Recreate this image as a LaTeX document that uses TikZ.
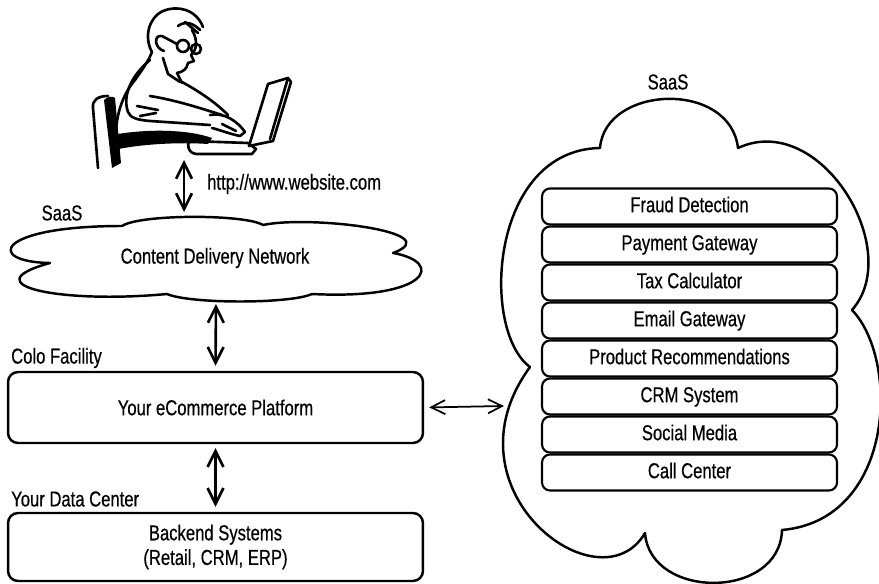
\documentclass[tikz,border=0pt]{standalone}
\usepackage{fontspec}
\setmainfont{Liberation Sans}[FakeStretch=0.77,FakeBold=0.5]
\usetikzlibrary{arrows.meta,positioning}

\begin{document}
\begin{tikzpicture}[x=0.02cm,y=-0.02cm,
  every node/.style={font=\fontsize{12.3}{14}\selectfont},
  every text node part/.style={align=center},
  cloudline/.style={line width=1.4pt, line join=round},
  tier/.style={draw, line width=1.4pt, rounded corners=0.2cm, minimum width=8.3cm, minimum height=1.42cm},
  service/.style={draw, line width=1.2pt, rounded corners=0.16cm, minimum width=5.9cm, minimum height=0.72cm, inner sep=0pt, text height=9pt, text depth=2.5pt},
  link/.style={{Straight Barb[length=9pt,width=9pt]}-{Straight Barb[length=9pt,width=9pt]}, line width=1.5pt},
  sidelink/.style={{Straight Barb[length=8pt,width=8pt]}-{Straight Barb[length=8pt,width=8pt]}, line width=1pt}]

    \useasboundingbox (0,0) rectangle (879,584);

    %% user at the laptop
    \begin{scope}[line width=1.5pt, line cap=round, line join=round]
    % chair
    \draw (98,168) -- (93,108) .. controls (92,100) and (98,96) .. (108,96);
    \fill (104,100) .. controls (108,96) and (113,96) .. (115,98) -- (121,163) -- (112,168) -- cycle;
    % back, head and hair
    \draw (118,160) .. controls (112,130) and (118,100) .. (135,80) .. controls (142,70) and (148,62) .. (152,52);
    \draw (152,52) .. controls (144,38) and (148,18) .. (163,11) .. controls (177,5) and (196,9) .. (203,27);
    \draw (178,26) .. controls (186,20) and (194,24) .. (200,30);
    \draw (185,22) -- (198,33);
    % face, ear, glasses
    \draw (192,30) .. controls (198,40) and (197,50) .. (191,55) -- (194,61) -- (188,63) .. controls (187,69) and (183,72) .. (177,73);
    \draw (161,36) .. controls (154,35) and (154,48) .. (164,51);
    \draw (183,46) circle[radius=6];
    \draw (196,49) circle[radius=5];
    \draw (177,44) -- (162,36);
    % collar and chest
    \draw (163,58) -- (168,74) -- (180,82);
    \draw (177,73) -- (182,83);
    \draw (182,82) .. controls (200,92) and (215,102) .. (228,115);
    % arm and hands
    \draw (150,60) .. controls (132,75) and (122,95) .. (128,112) .. controls (130,118) and (138,120) .. (150,121) -- (210,125);
    \draw (150,96) .. controls (175,100) and (200,108) .. (222,115);
    \draw (137,106) -- (158,110);
    \draw (140,116) -- (156,113);
    \draw (210,115) .. controls (225,112) and (238,122) .. (245,132) -- (240,136) .. controls (230,134) and (220,130) .. (212,128);
    \draw (222,124) -- (236,131);
    \fill (112,135) .. controls (150,128) and (190,130) .. (212,138) -- (208,144) .. controls (180,142) and (140,144) .. (114,150) -- cycle;
    % laptop
    \draw (190,141) -- (248,143) -- (256,149) -- (252,154) -- (197,154) .. controls (188,154) and (186,143) .. (190,141);
    \draw (249,146) -- (268,84) -- (288,78) -- (291,82) -- (273,141) -- cycle;
    \draw (288,78) -- (270,139);
    \end{scope}
    \coordinate (user) at (184,160);

    %% content delivery network
    \draw[cloudline] (50,263) .. controls (-15,262) and (-5,226) .. (122,226)
        .. controls (140,214) and (245,214) .. (263,225)
        .. controls (310,215) and (450,232) .. (393,253)
        .. controls (445,262) and (430,300) .. (312,294)
        .. controls (290,304) and (190,304) .. (167,294)
        .. controls (60,304) and (-30,285) .. (50,263) -- cycle;
    \node (cdn) at (215,258) {Content Delivery Network};
    \node (cdnlabel) at (62,213) {SaaS};
    \node[anchor=west] (url) at (201,184) {http://www.website.com};
    \coordinate (cdntop) at (184,212);
    \coordinate (cdnbottom) at (216,304);

    %% platform and backend
    \node[tier] (platform) at (215.5,407.5) {Your eCommerce Platform};
    \node[anchor=west] (colo) at (5,358) {Colo Facility};
    \node[tier, minimum height=1.36cm] (backend) at (215.5,547) {Backend Systems\\(Retail, CRM, ERP)};
    \node[anchor=west] (dc) at (5,499) {Your Data Center};

    %% saas services
    \draw[cloudline] (600,148) .. controls (605,85) and (730,80) .. (738,148)
        .. controls (820,110) and (905,250) .. (852,310)
        .. controls (900,360) and (895,520) .. (782,530)
        .. controls (780,600) and (650,600) .. (645,533)
        .. controls (600,610) and (440,490) .. (530,367)
        .. controls (480,330) and (490,150) .. (600,148) -- cycle;
    \node (saaslabel) at (668,82) {SaaS};
    \coordinate (saasedge) at (504,406);

    \node[service] (fraud) at (689.5,206.5) {Fraud Detection};
    \node[service] (payment) at (689.5,244.5) {Payment Gateway};
    \node[service] (tax) at (689.5,282.5) {Tax Calculator};
    \node[service] (email) at (689.5,320.5) {Email Gateway};
    \node[service] (recommend) at (689.5,358.5) {Product Recommendations};
    \node[service] (crm) at (689.5,396.5) {CRM System};
    \node[service] (social) at (689.5,434.5) {Social Media};
    \node[service] (callcenter) at (689.5,472.5) {Call Center};

    % connections
    \draw[link] (user) -- (cdntop);
    \draw[link, shorten >=0.1cm] (cdnbottom) -- (platform.north);
    \draw[link, shorten <=0.08cm, shorten >=0.1cm] (platform.south) -- (backend.north);
    \draw[sidelink, shorten <=0.1cm] (platform.east) -- (saasedge);
  \end{tikzpicture}
\end{document}
